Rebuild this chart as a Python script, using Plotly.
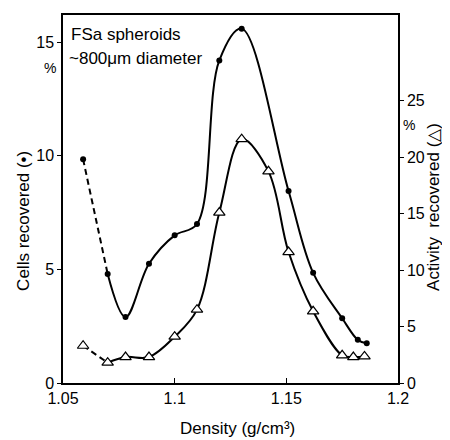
import plotly.graph_objects as go

# ---- data ----
density_cells = [1.059, 1.070, 1.078, 1.0885, 1.100, 1.110, 1.120, 1.130, 1.151, 1.162, 1.175, 1.182, 1.186]
cells_recovered = [9.85, 4.8, 2.9, 5.25, 6.5, 7.0, 14.2, 15.6, 8.45, 4.85, 2.85, 1.9, 1.75]

density_act = [1.059, 1.070, 1.078, 1.0885, 1.100, 1.110, 1.120, 1.130, 1.142, 1.151, 1.162, 1.175, 1.180, 1.185]
activity_recovered = [3.3, 1.8, 2.3, 2.3, 4.1, 6.5, 15.1, 21.6, 18.75, 11.6, 6.35, 2.45, 2.3, 2.35]

x_ticks = [1.05, 1.1, 1.15, 1.2]
x_tick_labels = ["1.05", "1.1", "1.15", "1.2"]
left_ticks = [0, 5, 10, 15]
right_ticks = [0, 5, 10, 15, 20, 25]

FONT = "Liberation Sans, Arial, sans-serif"
OFF = 8  # page body margin compensation
W, H = 450 - OFF, 440 - OFF
# target plot area in window pixels: x 63..398, y 13..383
X0, X1, Y0, Y1 = 63, 398, 13, 383
L, T = X0 - OFF, Y0 - OFF
R, B = (W + OFF) - X1, (H + OFF) - Y1
PW, PH = X1 - X0, Y1 - Y0


def px(xp):
    return (xp - X0) / PW


def py(yp):
    return (Y1 - yp) / PH


fig = go.Figure()

line_style = dict(color="black", width=2, shape="spline", smoothing=1.0)

# cells: dashed first segment, solid rest
fig.add_trace(go.Scatter(x=density_cells[:2], y=cells_recovered[:2], mode="lines",
                         line=dict(color="black", width=2, dash="6px,4px"),
                         hoverinfo="skip", showlegend=False))
fig.add_trace(go.Scatter(x=density_cells[1:], y=cells_recovered[1:], mode="lines",
                         line=line_style, hoverinfo="skip", showlegend=False))
fig.add_trace(go.Scatter(x=density_cells, y=cells_recovered, mode="markers",
                         marker=dict(symbol="circle", size=6, color="black"),
                         name="Cells recovered", showlegend=False))

# activity: dashed first segment, solid rest, right axis
fig.add_trace(go.Scatter(x=density_act[:2], y=activity_recovered[:2], mode="lines",
                         line=dict(color="black", width=2, dash="6px,4px"),
                         yaxis="y2", hoverinfo="skip", showlegend=False))
fig.add_trace(go.Scatter(x=density_act[1:], y=activity_recovered[1:], mode="lines",
                         line=line_style, yaxis="y2", hoverinfo="skip", showlegend=False))
fig.add_trace(go.Scatter(x=density_act, y=activity_recovered, mode="markers",
                         marker=dict(symbol="triangle-up", size=10, color="white",
                                     line=dict(color="black", width=1.2)),
                         yaxis="y2", name="Activity recovered", showlegend=False))

tickfont = dict(family=FONT, size=16, color="black")

fig.update_layout(
    width=W, height=H,
    margin=dict(l=L, r=R, t=T, b=B, pad=0),
    paper_bgcolor="white", plot_bgcolor="white",
    font=dict(family=FONT, size=16, color="black"),
    showlegend=False,
    xaxis=dict(range=[1.05, 1.2], tickvals=x_ticks, ticktext=x_tick_labels,
               ticks="inside", ticklen=5, tickcolor="black", tickwidth=1,
               showline=True, linecolor="black", linewidth=1.5, mirror=True,
               showgrid=False, zeroline=False, tickfont=tickfont),
    yaxis=dict(range=[0, 16.2], tickvals=left_ticks, ticks="outside", ticklen=4,
               tickcolor="black", tickwidth=1, showline=True, linecolor="black",
               linewidth=1.5, showgrid=False, zeroline=False, tickfont=tickfont),
    yaxis2=dict(range=[0, 32.6], tickvals=right_ticks, ticks="outside", ticklen=4,
                tickcolor="black", tickwidth=1, showline=True, linecolor="black",
                linewidth=1.5, showgrid=False, zeroline=False, overlaying="y",
                side="right", tickfont=tickfont),
)

ann = [
    dict(text="FSa spheroids", x=px(69), y=py(33), xanchor="left", yanchor="middle", size=17),
    dict(text="~800\u03bcm diameter", x=px(67), y=py(57), xanchor="left", yanchor="middle", size=17),
    dict(text="%", x=px(50), y=py(66), xanchor="center", yanchor="middle", size=14),
    dict(text="%", x=px(409), y=py(124), xanchor="center", yanchor="middle", size=14),
    dict(text="Density (g/cm\u00b3)", x=px(238), y=py(429), xanchor="center", yanchor="middle", size=17),
    dict(text="Cells recovered (\u2022)", x=px(24), y=py(220), xanchor="center", yanchor="middle",
         size=17, angle=-90),
    dict(text="Activity  recovered (\u25b3)", x=px(434), y=py(206), xanchor="center", yanchor="middle",
         size=17, angle=-90),
]
for a in ann:
    fig.add_annotation(text=a["text"], x=a["x"], y=a["y"], xref="paper", yref="paper",
                       xanchor=a["xanchor"], yanchor=a["yanchor"], showarrow=False,
                       textangle=a.get("angle", 0),
                       font=dict(family=FONT, size=a["size"], color="black"))

fig.write_html("out.html")
